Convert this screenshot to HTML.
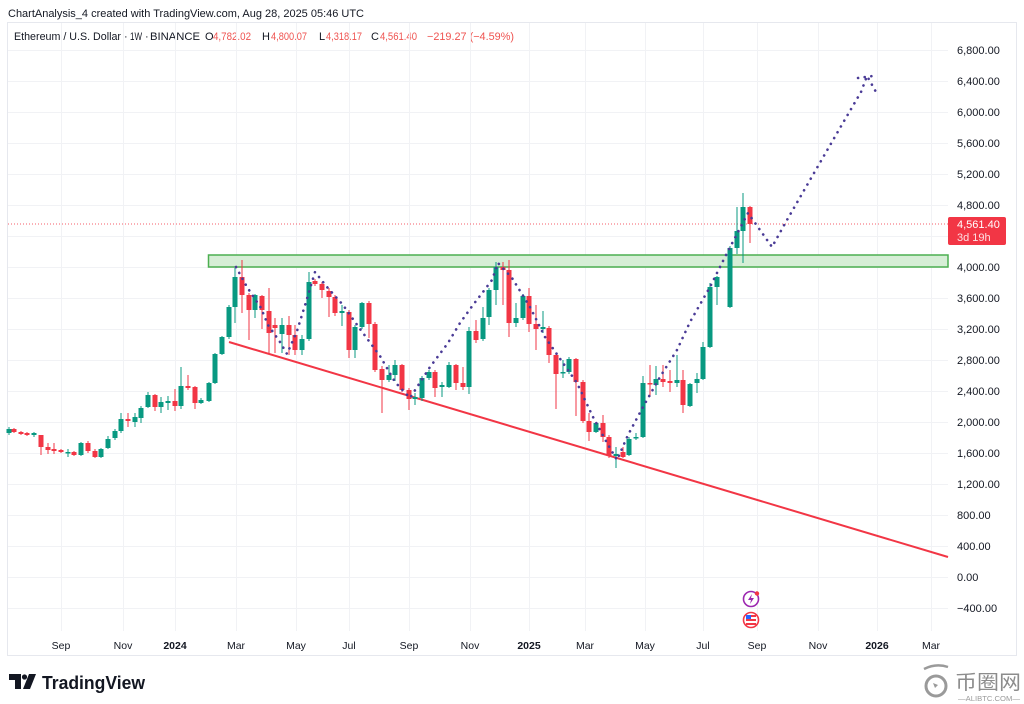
<!DOCTYPE html>
<html><head><meta charset="utf-8"><style>
html,body{margin:0;padding:0;background:#fff;}
svg{display:block;}
text{font-family:"Liberation Sans","Noto Sans CJK SC",sans-serif;}
</style></head><body>
<svg width="1024" height="704" viewBox="0 0 1024 704" xmlns="http://www.w3.org/2000/svg">
<rect width="1024" height="704" fill="#fff"/>
<text x="8" y="17" font-size="11" fill="#131722" textLength="356" lengthAdjust="spacingAndGlyphs">ChartAnalysis_4 created with TradingView.com, Aug 28, 2025 05:46 UTC</text>
<rect x="7.5" y="22.5" width="1009" height="633" fill="none" stroke="#e6e8ee"/>
<g font-size="11">
<text x="14" y="40" fill="#131722" textLength="107" lengthAdjust="spacingAndGlyphs">Ethereum / U.S. Dollar</text>
<text x="124" y="40" fill="#131722">·</text>
<text x="130" y="40" fill="#131722" textLength="12" lengthAdjust="spacingAndGlyphs">1W</text>
<text x="145" y="40" fill="#131722">·</text>
<text x="150" y="40" fill="#131722" textLength="50" lengthAdjust="spacingAndGlyphs">BINANCE</text>
<text x="205" y="40" fill="#131722">O</text><text x="213" y="40" fill="#ef5350" textLength="38" lengthAdjust="spacingAndGlyphs">4,782.02</text>
<text x="262" y="40" fill="#131722">H</text><text x="271" y="40" fill="#ef5350" textLength="36" lengthAdjust="spacingAndGlyphs">4,800.07</text>
<text x="319" y="40" fill="#131722">L</text><text x="326" y="40" fill="#ef5350" textLength="36" lengthAdjust="spacingAndGlyphs">4,318.17</text>
<text x="371" y="40" fill="#131722">C</text><text x="380" y="40" fill="#ef5350" textLength="37" lengthAdjust="spacingAndGlyphs">4,561.40</text>
<text x="427" y="40" fill="#ef5350" textLength="87" lengthAdjust="spacingAndGlyphs">−219.27 (−4.59%)</text>
</g>
<g stroke="#f1f2f5" stroke-width="1">
<path d="M8 50.5H948M8 81.5H948M8 112.5H948M8 143.5H948M8 174.5H948M8 205.5H948M8 236.5H948M8 267.5H948M8 298.5H948M8 329.5H948M8 360.5H948M8 391.5H948M8 422.5H948M8 453.5H948M8 484.5H948M8 515.5H948M8 546.5H948M8 577.5H948M8 608.5H948"/>
<path d="M61.5 23V631M123.5 23V631M175.5 23V631M236.5 23V631M296.5 23V631M349.5 23V631M409.5 23V631M470.5 23V631M529.5 23V631M585.5 23V631M645.5 23V631M703.5 23V631M757.5 23V631M818.5 23V631M877.5 23V631M931.5 23V631"/>
</g>
<rect x="208.5" y="255" width="739.5" height="12" fill="#d6eed6" stroke="#4caf50" stroke-width="1.5"/>
<line x1="229" y1="342" x2="948" y2="557" stroke="#f23645" stroke-width="2"/>
<line x1="8" y1="224" x2="948" y2="224" stroke="#f23645" stroke-width="1" stroke-dasharray="1 2" opacity="0.8"/>
<path stroke="#089981" stroke-width="1" fill="none" d="M9 427V435M34 432V437M68 449V457M81 442V456M101 448V458M108 436V449M115 429V440M121 413V433M135 413V427M141 406V423M148 392V408M161 397V413M168 396V410M181 367V409M201 398V404M209 382V402M215 353V384M222 336V355M229 305V339M235 268V323M255 294V318M282 318V353M302 335V355M309 272V341M342 305V326M355 325V358M362 302V329M389 365V382M395 360V381M415 393V405M422 376V401M429 370V380M442 382V397M449 362V388M469 327V394M483 307V341M489 288V325M496 262V305M516 303V327M523 294V320M543 311V333M563 360V378M569 357V374M596 422V433M616 447V468M629 437V456M636 433V440M643 376V438M656 366V395M677 355V387M690 383V407M697 373V393M703 342V380M710 283V348M717 276V305M730 246V308M737 207V254M743 193V263"/>
<path fill="#089981" d="M6.5 429h5V433h-5zM31.5 433h5V435h-5zM65.5 452h5V453.5h-5zM78.5 443h5V455h-5zM98.5 449h5V457h-5zM105.5 439h5V448h-5zM112.5 431h5V438h-5zM118.5 419h5V431h-5zM132.5 417h5V422h-5zM138.5 408h5V418h-5zM145.5 395h5V407h-5zM158.5 402h5V407h-5zM165.5 401h5V403h-5zM178.5 386h5V406h-5zM198.5 400h5V403h-5zM206.5 383h5V401h-5zM212.5 354h5V383h-5zM219.5 337h5V354h-5zM226.5 307h5V337h-5zM232.5 277h5V307h-5zM252.5 295h5V310h-5zM279.5 325h5V334h-5zM299.5 339h5V350h-5zM306.5 282h5V339h-5zM339.5 311h5V313h-5zM352.5 327h5V350h-5zM359.5 303h5V327h-5zM386.5 375h5V380h-5zM392.5 365h5V375h-5zM412.5 397h5V399h-5zM419.5 378h5V398h-5zM426.5 372h5V378h-5zM439.5 385h5V387h-5zM446.5 365h5V387h-5zM466.5 331h5V387h-5zM480.5 318h5V339h-5zM486.5 290h5V317h-5zM493.5 267h5V290h-5zM513.5 318h5V323h-5zM520.5 296h5V318h-5zM540.5 327h5V329h-5zM560.5 372h5V373.5h-5zM566.5 359h5V372h-5zM593.5 423h5V432h-5zM613.5 454h5V456h-5zM626.5 439h5V455h-5zM633.5 437h5V438.5h-5zM640.5 383h5V437h-5zM653.5 379h5V385h-5zM674.5 380h5V383h-5zM687.5 384h5V406h-5zM694.5 379h5V383h-5zM700.5 347h5V379h-5zM707.5 287h5V347h-5zM714.5 277h5V287h-5zM727.5 248h5V307h-5zM734.5 231h5V248h-5zM740.5 207h5V231h-5z"/>
<path stroke="#f23645" stroke-width="1" fill="none" d="M14 428V433M21 431V435M27 432V436M41 435V455M48 443V454M54 443V454M61 449V453M74 451V456M88 441V453M95 449V458M128 413V427M155 394V411M175 389V411M188 375V390M195 386V409M242 260V313M249 293V340M262 295V329M269 288V353M275 318V353M289 316V355M295 325V355M315 279V286M322 282V298M329 288V317M335 295V316M349 310V358M369 301V338M375 322V372M382 366V413M402 364V392M409 388V410M435 370V397M456 364V390M463 367V390M476 320V343M503 262V305M509 260V337M529 288V332M536 305V350M549 326V363M556 353V409M576 358V416M583 380V423M589 413V441M603 415V442M609 435V458M623 447V458M650 365V397M663 365V387M670 370V392M683 370V413M750 206V243"/>
<path fill="#f23645" d="M11.5 429h5V432h-5zM18.5 432h5V434h-5zM24.5 433h5V435h-5zM38.5 435h5V447h-5zM45.5 447h5V450h-5zM51.5 449h5V451h-5zM58.5 450h5V452h-5zM71.5 452h5V455h-5zM85.5 443h5V451h-5zM92.5 451h5V457h-5zM125.5 419h5V421h-5zM152.5 395h5V407h-5zM172.5 401h5V406h-5zM185.5 386h5V388h-5zM192.5 387h5V403h-5zM239.5 277h5V295h-5zM246.5 295h5V310h-5zM259.5 296h5V310h-5zM266.5 311h5V333h-5zM272.5 325h5V328h-5zM286.5 325h5V335h-5zM292.5 335h5V350h-5zM312.5 281h5V284h-5zM319.5 284h5V290h-5zM326.5 291h5V297h-5zM332.5 297h5V313h-5zM346.5 312h5V350h-5zM366.5 303h5V324h-5zM372.5 324h5V370h-5zM379.5 369h5V380h-5zM399.5 365h5V390h-5zM406.5 390h5V399h-5zM432.5 372h5V388h-5zM453.5 365h5V383h-5zM460.5 383h5V387h-5zM473.5 331h5V340h-5zM500.5 267h5V270h-5zM506.5 270h5V323h-5zM526.5 296h5V324h-5zM533.5 324h5V329h-5zM546.5 328h5V355h-5zM553.5 355h5V374h-5zM573.5 359h5V382h-5zM580.5 382h5V421h-5zM586.5 421h5V432h-5zM600.5 423h5V437h-5zM606.5 437h5V456h-5zM620.5 452h5V457h-5zM647.5 383h5V384.5h-5zM660.5 379h5V382h-5zM667.5 381h5V383h-5zM680.5 380h5V405h-5zM747.5 207h5V224h-5z"/>
<g fill="none" stroke="#4a3b96" stroke-width="2.6" stroke-linecap="round" stroke-dasharray="0.1 6.6">
<polyline points="236,267 247,287 261,308 268,325 280,342 287,354 297,331 306,302 315,272 327,287 343,305 360,329 380,356 395,382 410,398 430,367 448,343 460,323 473,305 483,292 492,280 498,263 512,278 530,307 545,337 563,363 577,383 593,417 607,443 617,460 628,435 643,407 660,377 677,350 690,322 710,287 727,253 748,213 772,247 787,220 810,180 840,128 861,92 867,76 876,92"/>
<polyline points="858,78 873,76"/>
</g>
<g font-size="11" fill="#131722">
<text x="957" y="54">6,800.00</text>
<text x="957" y="85">6,400.00</text>
<text x="957" y="116">6,000.00</text>
<text x="957" y="147">5,600.00</text>
<text x="957" y="178">5,200.00</text>
<text x="957" y="209">4,800.00</text>
<text x="957" y="271">4,000.00</text>
<text x="957" y="302">3,600.00</text>
<text x="957" y="333">3,200.00</text>
<text x="957" y="364">2,800.00</text>
<text x="957" y="395">2,400.00</text>
<text x="957" y="426">2,000.00</text>
<text x="957" y="457">1,600.00</text>
<text x="957" y="488">1,200.00</text>
<text x="957" y="519">800.00</text>
<text x="957" y="550">400.00</text>
<text x="957" y="581">0.00</text>
<text x="957" y="612">−400.00</text>
</g>
<rect x="948" y="217" width="58" height="28" rx="2" fill="#f23645"/>
<text x="957" y="228" font-size="11" fill="#fff">4,561.40</text>
<text x="957" y="241" font-size="11" fill="#fde0e3">3d 19h</text>
<g font-size="10.5" fill="#131722" text-anchor="middle">
<text x="61" y="649">Sep</text><text x="123" y="649">Nov</text><text x="175" y="649" font-weight="bold">2024</text>
<text x="236" y="649">Mar</text><text x="296" y="649">May</text><text x="349" y="649">Jul</text>
<text x="409" y="649">Sep</text><text x="470" y="649">Nov</text><text x="529" y="649" font-weight="bold">2025</text>
<text x="585" y="649">Mar</text><text x="645" y="649">May</text><text x="703" y="649">Jul</text>
<text x="757" y="649">Sep</text><text x="818" y="649">Nov</text><text x="877" y="649" font-weight="bold">2026</text>
<text x="931" y="649">Mar</text>
</g>
<circle cx="751" cy="599" r="7.5" fill="#fff" stroke="#9c27b0" stroke-width="1.6"/>
<path d="M752 594l-4 6h3l-1 4 4-6h-3z" fill="#9c27b0"/>
<circle cx="757" cy="593.5" r="2.2" fill="#f23645"/>
<circle cx="751" cy="620" r="7.5" fill="#fff" stroke="#f23645" stroke-width="1.6"/>
<rect x="746" y="615" width="10" height="2" fill="#f23645"/><rect x="746" y="619" width="10" height="2" fill="#f23645"/><rect x="746" y="623" width="10" height="2" fill="#f23645"/>
<rect x="746" y="615" width="5" height="4" fill="#2962ff"/>
<g fill="#131722">
<path d="M9 674h12v15h-6v-9h-6z"/>
<circle cx="24.5" cy="677" r="2.6"/>
<path d="M29 674h7l-6 15h-7z"/>
</g>
<text x="42" y="689" font-size="18" font-weight="bold" fill="#131722" textLength="103" lengthAdjust="spacingAndGlyphs">TradingView</text>
<g fill="none" stroke="#9a9a9a" stroke-width="3">
<circle cx="936" cy="686" r="10"/>
<path d="M924 669q12-6 24-2" stroke-width="2.5"/>
</g>
<path d="M933 683l5 2-3 3z" fill="#9a9a9a"/>
<text x="955" y="689" font-size="20" fill="#8c8c8c" font-family="'Noto Sans CJK SC',sans-serif" textLength="66" lengthAdjust="spacingAndGlyphs">币圈网</text>
<text x="958" y="701" font-size="7" fill="#9a9a9a" textLength="62" lengthAdjust="spacingAndGlyphs">—ALIBTC.COM—</text>
</svg>
</body></html>
